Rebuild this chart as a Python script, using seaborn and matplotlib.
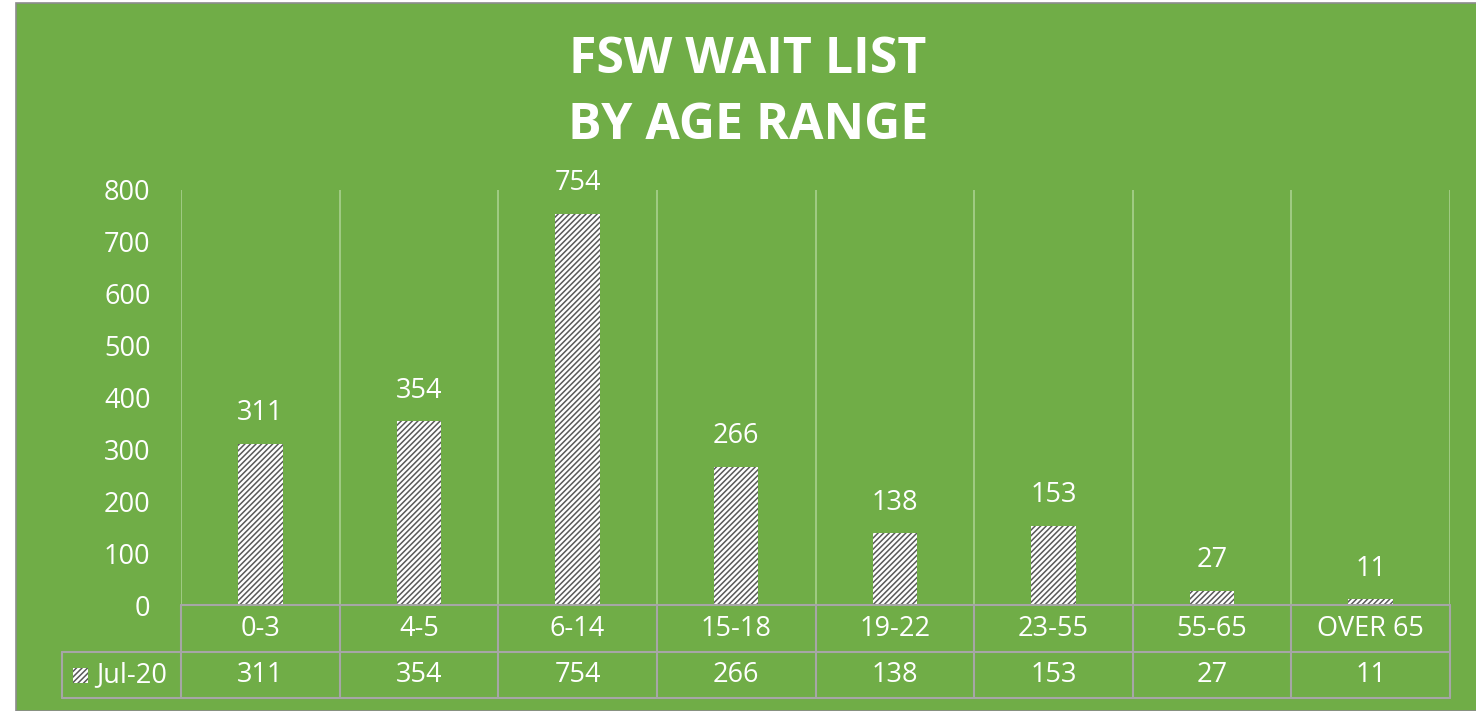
import matplotlib
matplotlib.use("Agg")
import matplotlib.pyplot as plt
import seaborn as sns
import pandas as pd
from matplotlib.patches import Rectangle
from matplotlib.lines import Line2D

# data
age_ranges = ["0-3", "4-5", "6-14", "15-18", "19-22", "23-55", "55-65", "OVER 65"]
jul20 = [311, 354, 754, 266, 138, 153, 27, 11]
series_name = "Jul-20"
y_ticks = [0, 100, 200, 300, 400, 500, 600, 700, 800]

GREEN = "#70AD47"
GRID = "#A9D18E"
TABLE = "#A6A6A6"
HATCH = "#595959"
FONT = ["Open Sans", "DejaVu Sans"]
FS = 19.5
HATCH_PAT = "//////"

sns.set_theme(style="white")
plt.rcParams["font.family"] = FONT
plt.rcParams["hatch.linewidth"] = 1.1

W, H = 1476, 711
fig = plt.figure(figsize=(W / 100, H / 100), dpi=100)
fig.patch.set_facecolor("white")
fig.add_artist(Rectangle((16 / W, 0), 1.0, 1 - 3 / H, transform=fig.transFigure,
                         facecolor=GREEN, edgecolor="#8C8C8C", linewidth=1.2,
                         zorder=-10))

left, right, top, bottom = 181, 1450, 190, 605
ax = fig.add_axes([left / W, 1 - bottom / H, (right - left) / W, (bottom - top) / H])
ax.set_facecolor("none")

df = pd.DataFrame({"age": age_ranges, "count": jul20})
sns.barplot(data=df, x="age", y="count", color="white", width=0.28, ax=ax, zorder=3)
for p in ax.patches:
    p.set_facecolor("white")
    p.set_edgecolor(HATCH)
    p.set_linewidth(0)
    p.set_hatch(HATCH_PAT)

ax.set_ylim(0, 800)
ax.set_xlim(-0.5, len(age_ranges) - 0.5)
ax.set_yticks(y_ticks)
ax.set_yticklabels([str(t) for t in y_ticks], color="white", fontsize=FS)
ax.tick_params(axis="y", length=0, pad=22)
ax.set_xticks([])
ax.set_xlabel("")
ax.set_ylabel("")
for s in ax.spines.values():
    s.set_visible(False)

# vertical gridlines at category boundaries
for i in range(len(age_ranges) + 1):
    ax.axvline(i - 0.5, color=GRID, linewidth=1.2, zorder=1)

# data labels
for i, v in enumerate(jul20):
    ax.annotate(str(v), (i, v), xytext=(0, 22), textcoords="offset points",
                ha="center", va="center", color="white", fontsize=FS)

# data table under the plot
row1 = -(652 - bottom) / (bottom - top)
row2 = -(698 - bottom) / (bottom - top)
legend_x = -(left - 62) / (right - left)
tr = ax.get_xaxis_transform()
ln = dict(color=TABLE, linewidth=1.5, clip_on=False, zorder=4)
ax.add_line(Line2D([-0.5, len(age_ranges) - 0.5], [0, 0], transform=tr, **ln))
ax.add_line(Line2D([legend_x, 1], [row1, row1], transform=ax.transAxes, **ln))
ax.add_line(Line2D([legend_x, 1], [row2, row2], transform=ax.transAxes, **ln))
ax.add_line(Line2D([legend_x, legend_x], [row1, row2], transform=ax.transAxes, **ln))
for i in range(len(age_ranges) + 1):
    ax.add_line(Line2D([i - 0.5, i - 0.5], [0, row2], transform=tr, **ln))

for i, (lab, v) in enumerate(zip(age_ranges, jul20)):
    ax.text(i, row1 / 2, lab, transform=tr, ha="center", va="center",
            color="white", fontsize=FS)
    ax.text(i, (row1 + row2) / 2, str(v), transform=tr, ha="center", va="center",
            color="white", fontsize=FS)

# legend key in the table
key_h = 15 / (bottom - top)
key_w = 15 / (right - left)
key_x = -(left - 73) / (right - left)
key_y = (row1 + row2) / 2 - key_h / 2
ax.add_patch(Rectangle((key_x, key_y), key_w, key_h, transform=ax.transAxes,
                       facecolor="white", edgecolor=HATCH, linewidth=0,
                       hatch=HATCH_PAT, clip_on=False, zorder=4))
ax.text(-(left - 96) / (right - left), (row1 + row2) / 2, series_name,
        transform=ax.transAxes, ha="left", va="center", color="white", fontsize=FS)

fig.text(748 / W, 1 - 93 / H, "FSW WAIT LIST\nBY AGE RANGE", ha="center", va="center",
         color="white", fontsize=36, fontweight="bold", linespacing=1.4)

fig.savefig("out.png", dpi=100, facecolor=fig.get_facecolor())
